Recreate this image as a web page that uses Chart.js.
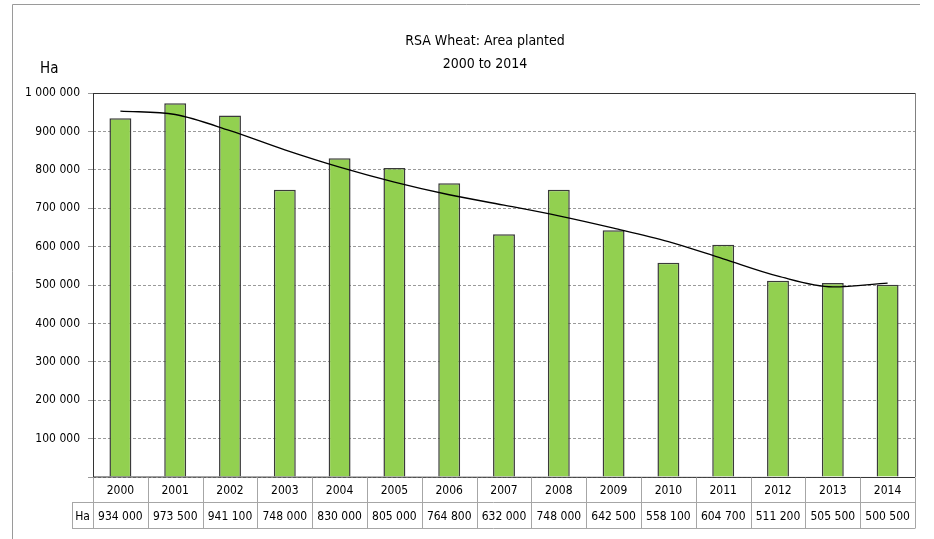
<!DOCTYPE html>
<html>
<head>
<meta charset="utf-8">
<script src="https://cdn.jsdelivr.net/npm/chart.js@4"></script>
<style>
html,body{margin:0;padding:0;background:#fff;}
#wrap{width:934px;height:539px;position:relative;}
</style>
</head>
<body>
<div id="wrap"><canvas id="c" width="934" height="539"></canvas></div>
<script>
const years = ['2000','2001','2002','2003','2004','2005','2006','2007','2008','2009','2010','2011','2012','2013','2014'];
const areaPlanted = [934000,973500,941100,748000,830000,805000,764800,632000,748000,642500,558100,604700,511200,505500,500500];
const trendValues = [953000,944000,902000,852000,807000,768000,735000,708000,680000,648000,613000,568000,523000,495000,505000];
const titleLines = ['RSA Wheat: Area planted','2000 to 2014'];
const unitLabel = 'Ha';

const FONT = '"DejaVu Sans Condensed","Liberation Sans Narrow","DejaVu Sans",sans-serif';

function fmt(v){
  return String(Math.round(v)).replace(/\B(?=(\d{3})+(?!\d))/g,' ');
}

const decor = {
  id:'decor',
  beforeDraw(chart){
    const ctx = chart.ctx;
    ctx.save();
    ctx.fillStyle='#fff';
    ctx.fillRect(0,0,chart.width,chart.height);
    ctx.strokeStyle='#9a9a9a';
    ctx.lineWidth=1;
    ctx.beginPath();
    ctx.moveTo(12.5,539);
    ctx.lineTo(12.5,4.5);
    ctx.lineTo(920,4.5);
    ctx.stroke();
    ctx.fillStyle='#000';
    ctx.font='14px '+FONT;
    ctx.textAlign='center';
    ctx.textBaseline='middle';
    ctx.fillText(titleLines[0],485,41);
    ctx.fillText(titleLines[1],485,64);
    ctx.textAlign='left';
    ctx.font='15px '+FONT;
    ctx.fillText(unitLabel,40,69);
    ctx.restore();
  },
  afterDraw(chart){
    const ctx = chart.ctx;
    const a = chart.chartArea;
    const xs = chart.scales.x;
    const n = years.length;
    const w = (a.right-a.left)/n;
    ctx.save();
    ctx.lineWidth=1;
    ctx.strokeStyle='#808080';
    ctx.beginPath();
    ctx.moveTo(Math.round(a.right)+0.5,a.top);
    ctx.lineTo(Math.round(a.right)+0.5,a.bottom);
    ctx.stroke();
    ctx.strokeStyle='#333';
    ctx.beginPath();
    ctx.moveTo(a.left,Math.round(a.top)+0.5);
    ctx.lineTo(a.right,Math.round(a.top)+0.5);
    ctx.stroke();
    ctx.beginPath();
    ctx.moveTo(Math.round(a.left)+0.5,a.top);
    ctx.lineTo(Math.round(a.left)+0.5,a.bottom);
    ctx.lineTo(a.right,Math.round(a.bottom)+0.5);
    ctx.stroke();
    const r0 = Math.round(a.bottom)+0.5, r1 = r0+25, r2 = r0+51;
    const hx = a.left-21;
    ctx.strokeStyle='#a6a6a6';
    ctx.beginPath();
    for(let i=0;i<=n;i++){
      const x = Math.round(a.left+w*i)+0.5;
      ctx.moveTo(x,r0); ctx.lineTo(x,r2);
    }
    ctx.moveTo(Math.round(hx)+0.5,r1); ctx.lineTo(Math.round(hx)+0.5,r2);
    ctx.moveTo(hx,r1); ctx.lineTo(a.right,r1);
    ctx.moveTo(hx,r2); ctx.lineTo(a.right,r2);
    ctx.stroke();
    ctx.fillStyle='#000';
    ctx.font='12px '+FONT;
    ctx.textAlign='center';
    ctx.textBaseline='middle';
    for(let i=0;i<n;i++){
      const cx = xs.getPixelForValue(i);
      ctx.fillText(years[i],cx,(r0+r1)/2+1);
      ctx.fillText(fmt(areaPlanted[i]),cx,(r1+r2)/2+1);
    }
    ctx.fillText(unitLabel,(hx+a.left)/2,(r1+r2)/2+1);
    ctx.restore();
  }
};

new Chart(document.getElementById('c'),{
  data:{
    labels:years,
    datasets:[
      {type:'line',label:'Trend',data:trendValues,borderColor:'#000',borderWidth:1.3,pointRadius:0,cubicInterpolationMode:'monotone',order:0},
      {type:'bar',label:unitLabel,data:areaPlanted,backgroundColor:'#92D050',borderColor:'#3a3a3a',borderWidth:1.5,barPercentage:0.4,categoryPercentage:1,order:1}
    ]
  },
  options:{
    responsive:false,
    animation:false,
    layout:{padding:{left:0,right:19,top:93,bottom:0}},
    plugins:{legend:{display:false},title:{display:false},tooltip:{enabled:false}},
    scales:{
      x:{
        ticks:{display:false},
        grid:{display:false,drawTicks:false},
        border:{display:false},
        afterFit(s){s.height=62;}
      },
      y:{
        min:0,max:1000000,
        ticks:{stepSize:100000,color:'#000',font:{family:FONT,size:12},padding:8,
          callback:(v)=> v===0?'':fmt(v)},
        grid:{color:'#9a9a9a',tickLength:5,tickColor:'#9a9a9a',tickBorderDash:[]},
        border:{display:false,dash:[3,2]},
        afterFit(s){s.width=93;}
      }
    }
  },
  plugins:[decor]
});
</script>
</body>
</html>
